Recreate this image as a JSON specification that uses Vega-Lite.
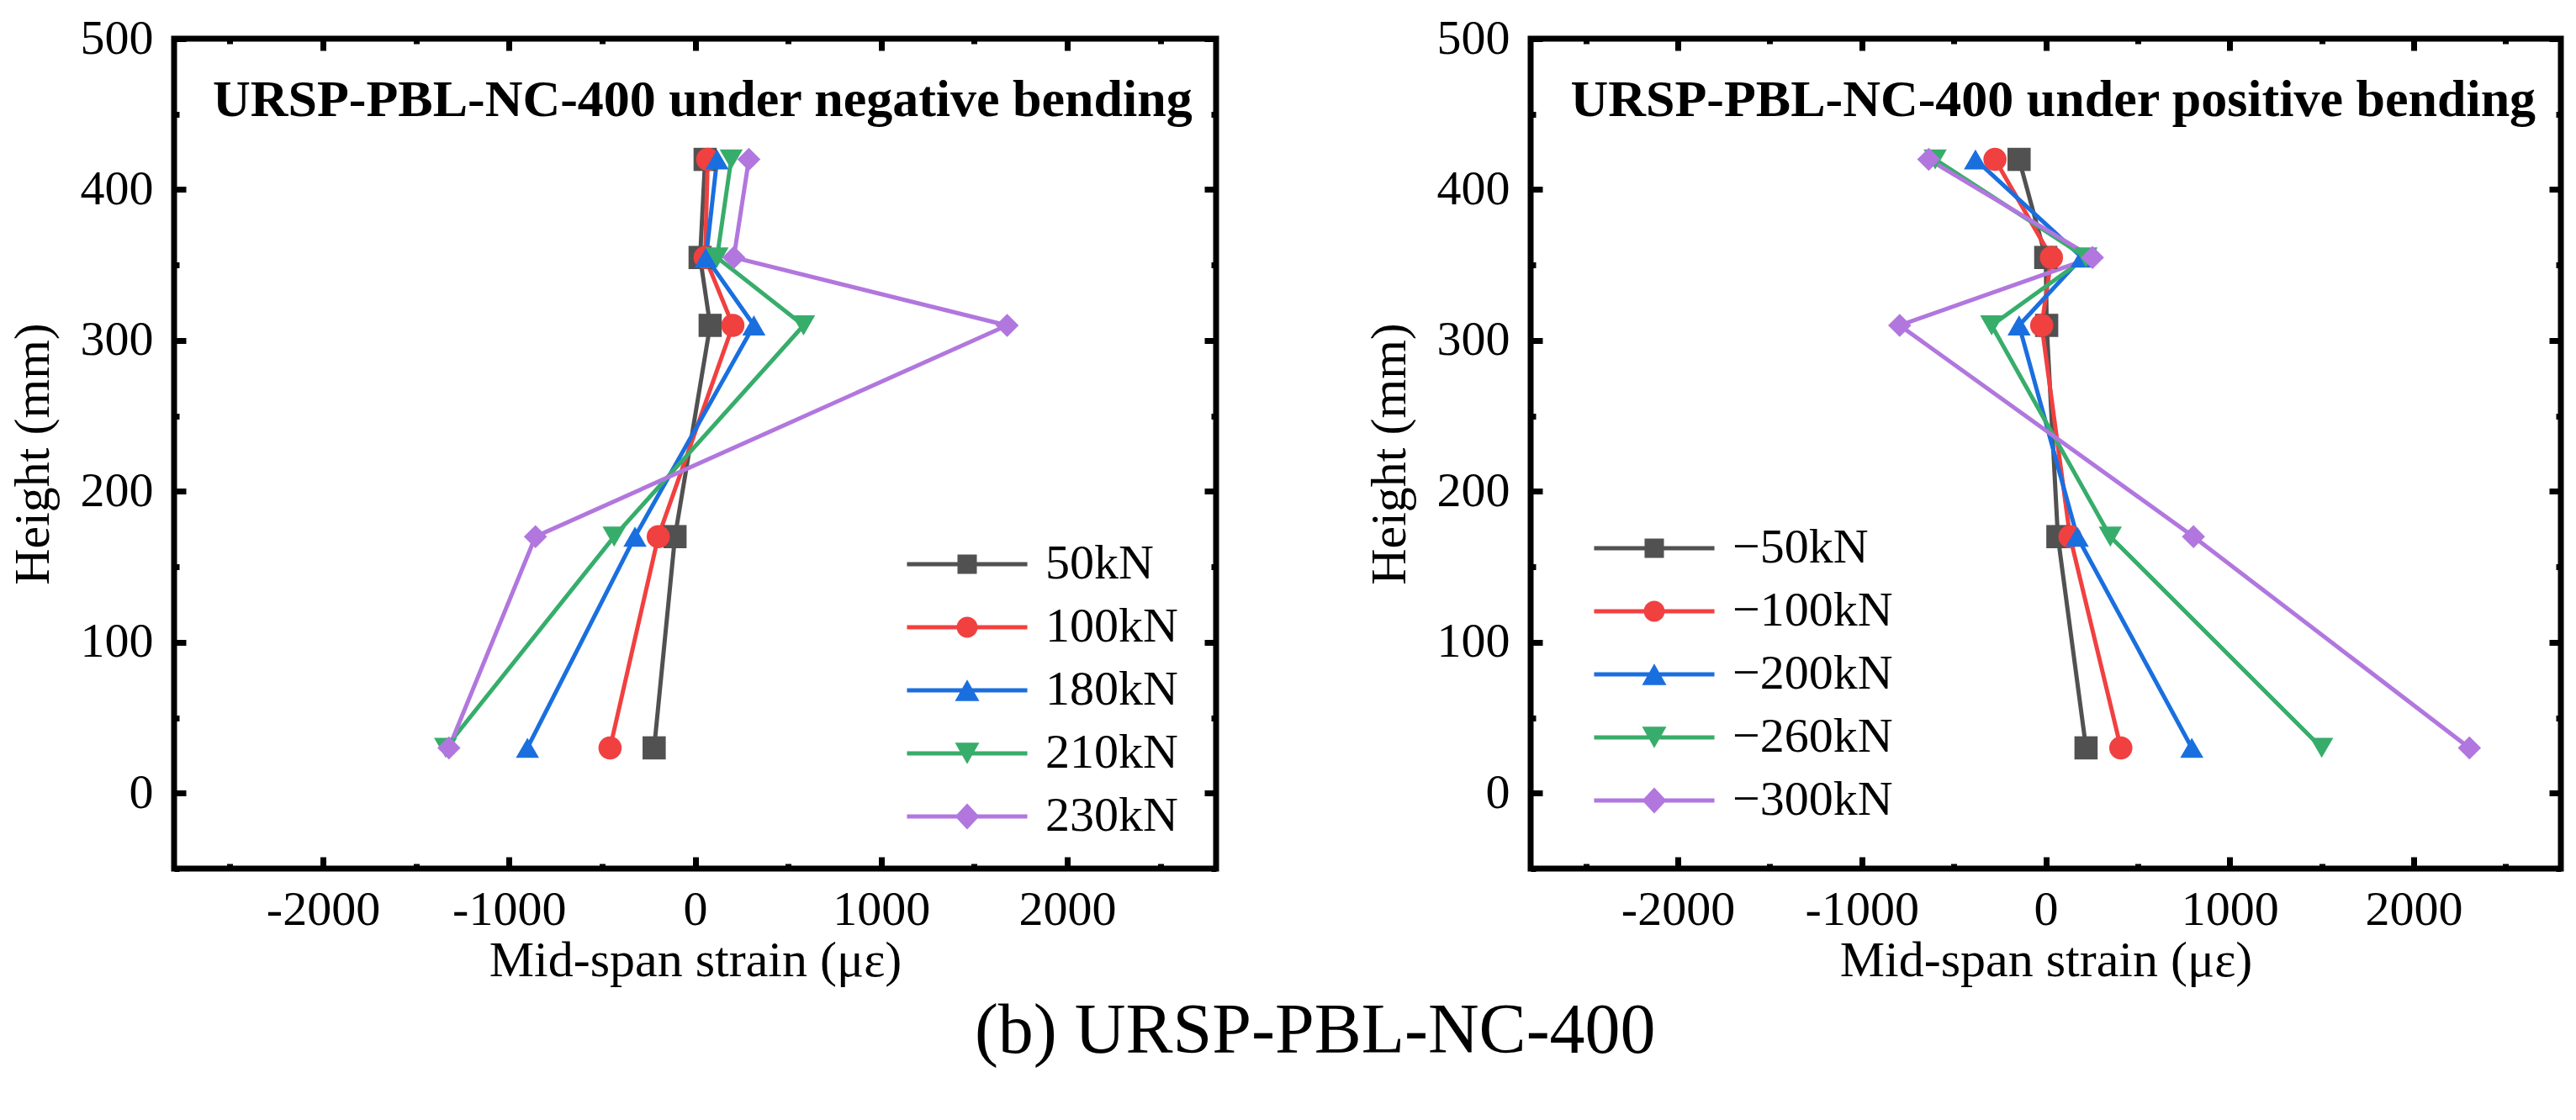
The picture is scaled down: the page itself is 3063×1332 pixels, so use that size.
{
  "$schema": "https://vega.github.io/schema/vega-lite/v6.json",
  "background": "white",
  "padding": {"left": 5, "top": 13, "right": 5, "bottom": 5},
  "datasets": {
    "strain": [
      {"panel": "neg", "series": "50kN", "height": 30, "strain": -220},
      {"panel": "neg", "series": "50kN", "height": 170, "strain": -108},
      {"panel": "neg", "series": "50kN", "height": 310, "strain": 81},
      {"panel": "neg", "series": "50kN", "height": 355, "strain": 27},
      {"panel": "neg", "series": "50kN", "height": 420, "strain": 54},
      {"panel": "neg", "series": "100kN", "height": 30, "strain": -457},
      {"panel": "neg", "series": "100kN", "height": 170, "strain": -198},
      {"panel": "neg", "series": "100kN", "height": 310, "strain": 203},
      {"panel": "neg", "series": "100kN", "height": 355, "strain": 54},
      {"panel": "neg", "series": "100kN", "height": 420, "strain": 68},
      {"panel": "neg", "series": "180kN", "height": 30, "strain": -901},
      {"panel": "neg", "series": "180kN", "height": 170, "strain": -323},
      {"panel": "neg", "series": "180kN", "height": 310, "strain": 316},
      {"panel": "neg", "series": "180kN", "height": 355, "strain": 59},
      {"panel": "neg", "series": "180kN", "height": 420, "strain": 118},
      {"panel": "neg", "series": "210kN", "height": 30, "strain": -1341},
      {"panel": "neg", "series": "210kN", "height": 170, "strain": -435},
      {"panel": "neg", "series": "210kN", "height": 310, "strain": 583},
      {"panel": "neg", "series": "210kN", "height": 355, "strain": 118},
      {"panel": "neg", "series": "210kN", "height": 420, "strain": 194},
      {"panel": "neg", "series": "230kN", "height": 30, "strain": -1323},
      {"panel": "neg", "series": "230kN", "height": 170, "strain": -858},
      {"panel": "neg", "series": "230kN", "height": 310, "strain": 1677},
      {"panel": "neg", "series": "230kN", "height": 355, "strain": 208},
      {"panel": "neg", "series": "230kN", "height": 420, "strain": 289},
      {"panel": "pos", "series": "−50kN", "height": 30, "strain": 219},
      {"panel": "pos", "series": "−50kN", "height": 170, "strain": 66},
      {"panel": "pos", "series": "−50kN", "height": 310, "strain": 5},
      {"panel": "pos", "series": "−50kN", "height": 355, "strain": 0},
      {"panel": "pos", "series": "−50kN", "height": 420, "strain": -145},
      {"panel": "pos", "series": "−100kN", "height": 30, "strain": 408},
      {"panel": "pos", "series": "−100kN", "height": 170, "strain": 132},
      {"panel": "pos", "series": "−100kN", "height": 310, "strain": -22},
      {"panel": "pos", "series": "−100kN", "height": 355, "strain": 31},
      {"panel": "pos", "series": "−100kN", "height": 420, "strain": -276},
      {"panel": "pos", "series": "−200kN", "height": 30, "strain": 794},
      {"panel": "pos", "series": "−200kN", "height": 170, "strain": 171},
      {"panel": "pos", "series": "−200kN", "height": 310, "strain": -145},
      {"panel": "pos", "series": "−200kN", "height": 355, "strain": 197},
      {"panel": "pos", "series": "−200kN", "height": 420, "strain": -382},
      {"panel": "pos", "series": "−260kN", "height": 30, "strain": 1500},
      {"panel": "pos", "series": "−260kN", "height": 170, "strain": 351},
      {"panel": "pos", "series": "−260kN", "height": 310, "strain": -294},
      {"panel": "pos", "series": "−260kN", "height": 355, "strain": 219},
      {"panel": "pos", "series": "−260kN", "height": 420, "strain": -601},
      {"panel": "pos", "series": "−300kN", "height": 30, "strain": 2303},
      {"panel": "pos", "series": "−300kN", "height": 170, "strain": 803},
      {"panel": "pos", "series": "−300kN", "height": 310, "strain": -794},
      {"panel": "pos", "series": "−300kN", "height": 355, "strain": 254},
      {"panel": "pos", "series": "−300kN", "height": 420, "strain": -636}
    ]
  },
  "data": {"name": "strain"},
  "title": {
    "text": "(b) URSP-PBL-NC-400",
    "orient": "bottom",
    "anchor": "middle",
    "font": "Liberation Serif",
    "fontSize": 84,
    "fontWeight": "normal",
    "color": "black",
    "offset": 10,
    "dx": 35
  },
  "spacing": 165,
  "resolve": {"scale": {"color": "independent", "shape": "independent", "x": "independent", "y": "independent"}},
  "hconcat": [
    {
      "width": 1239,
      "height": 987,
      "transform": [{"filter": "datum.panel === 'neg'"}],
      "resolve": {"axis": {"x": "independent", "y": "independent"}, "scale": {"shape": "independent", "color": "independent"}},
      "layer": [
        {
          "mark": {"type": "line", "strokeWidth": 5},
          "encoding": {
            "x": {"field": "strain", "type": "quantitative",
              "scale": {"domain": [-2800, 2800], "nice": false, "zero": false},
              "axis": {"orient": "bottom", "values": [-2000, -1000, 0, 1000, 2000], "tickSize": -14, "labelPadding": 34, "labelExpr": "'' + datum.value", "title": "Mid-span strain (με)", "titlePadding": 2}},
            "y": {"field": "height", "type": "quantitative",
              "scale": {"domain": [-50, 500], "nice": false, "zero": false},
              "axis": {"orient": "left", "values": [0, 100, 200, 300, 400, 500], "tickSize": -14, "labelPadding": 39, "labelFlush": false, "title": "Height (mm)", "titlePadding": 25}},
            "color": {"field": "series", "type": "nominal",
              "scale": {"domain": ["50kN", "100kN", "180kN", "210kN", "230kN"], "range": ["#515151", "#F14040", "#1A6FDF", "#37AD6B", "#B177DE"]},
              "legend": null},
            "order": {"field": "height", "type": "quantitative"}
          }
        },
        {
          "mark": {"type": "point", "filled": true, "opacity": 1, "strokeWidth": 0, "size": 760},
          "encoding": {
            "x": {"field": "strain", "type": "quantitative",
              "axis": {"orient": "top", "values": [-2000, -1000, 0, 1000, 2000], "tickSize": -14, "labels": false, "title": null}},
            "y": {"field": "height", "type": "quantitative",
              "axis": {"orient": "right", "values": [0, 100, 200, 300, 400, 500], "tickSize": -14, "labels": false, "title": null}},
            "color": {"field": "series", "type": "nominal",
              "scale": {"domain": ["50kN", "100kN", "180kN", "210kN", "230kN"], "range": ["#515151", "#F14040", "#1A6FDF", "#37AD6B", "#B177DE"]},
              "legend": null},
            "shape": {"field": "series", "type": "nominal",
              "scale": {"domain": ["50kN", "100kN", "180kN", "210kN", "230kN"], "range": ["square", "circle", "triangle-up", "triangle-down", "diamond"]},
              "legend": null}
          }
        },
        {
          "data": {"values": [{"label": "URSP-PBL-NC-400 under negative bending"}]},
          "mark": {"type": "text", "fontSize": 62, "fontWeight": "bold", "align": "center", "baseline": "alphabetic", "color": "black"},
          "encoding": {
            "x": {"datum": 40, "type": "quantitative",
              "axis": {"orient": "bottom", "values": [-2500, -1500, -500, 500, 1500, 2500], "tickSize": -6, "labels": false, "title": null}},
            "y": {"datum": 449, "type": "quantitative",
              "axis": {"orient": "left", "values": [-50, 50, 150, 250, 350, 450], "tickSize": -6, "labels": false, "title": null}},
            "text": {"field": "label"}
          }
        },
        {
          "mark": {"type": "point", "filled": true, "opacity": 0, "strokeWidth": 0, "size": 900},
          "encoding": {
            "x": {"field": "strain", "type": "quantitative",
              "axis": {"orient": "top", "values": [-2500, -1500, -500, 500, 1500, 2500], "tickSize": -6, "labels": false, "title": null}},
            "y": {"field": "height", "type": "quantitative",
              "axis": {"orient": "right", "values": [-50, 50, 150, 250, 350, 450], "tickSize": -6, "labels": false, "title": null}},
            "color": {"field": "series", "type": "nominal",
              "scale": {"domain": ["50kN", "100kN", "180kN", "210kN", "230kN"], "range": ["#515151", "#F14040", "#1A6FDF", "#37AD6B", "#B177DE"]},
              "legend": {"title": null, "orient": "none", "legendX": 914, "legendY": 596, "padding": 0,
                "labelFontSize": 58, "labelColor": "black", "labelLimit": 0, "symbolOpacity": 1,
                "symbolSize": 900, "symbolStrokeWidth": 0, "labelOffset": 64, "rowPadding": 17}},
            "shape": {"field": "series", "type": "nominal",
              "scale": {"domain": ["50kN", "100kN", "180kN", "210kN", "230kN"], "range": [
                "M-4.77,-0.167H4.77V0.167H-4.77ZM-0.767,-0.767H0.767V0.767H-0.767Z",
                "M-4.77,-0.167H4.77V0.167H-4.77ZM-0.833,0A0.833,0.833,0,1,1,0.833,0A0.833,0.833,0,1,1,-0.833,0Z",
                "M-4.77,-0.167H4.77V0.167H-4.77ZM0,-0.85L0.967,0.85L-0.967,0.85Z",
                "M-4.77,-0.167H4.77V0.167H-4.77ZM0,0.85L-0.967,-0.85L0.967,-0.85Z",
                "M-4.77,-0.167H4.77V0.167H-4.77ZM0,-1.03L0.967,0L0,1.03L-0.967,0Z"]},
              "legend": {"title": null, "orient": "none", "legendX": 914, "legendY": 596, "padding": 0,
                "labelFontSize": 58, "labelColor": "black", "labelLimit": 0, "symbolOpacity": 1,
                "symbolSize": 900, "symbolStrokeWidth": 0, "labelOffset": 64, "rowPadding": 17}}
          }
        }
      ]
    },
    {
      "width": 1225,
      "height": 987,
      "transform": [{"filter": "datum.panel === 'pos'"}],
      "resolve": {"axis": {"x": "independent", "y": "independent"}, "scale": {"shape": "independent", "color": "independent"}},
      "layer": [
        {
          "mark": {"type": "line", "strokeWidth": 5},
          "encoding": {
            "x": {"field": "strain", "type": "quantitative",
              "scale": {"domain": [-2800, 2800], "nice": false, "zero": false},
              "axis": {"orient": "bottom", "values": [-2000, -1000, 0, 1000, 2000], "tickSize": -14, "labelPadding": 34, "labelExpr": "'' + datum.value", "title": "Mid-span strain (με)", "titlePadding": 2}},
            "y": {"field": "height", "type": "quantitative",
              "scale": {"domain": [-50, 500], "nice": false, "zero": false},
              "axis": {"orient": "left", "values": [0, 100, 200, 300, 400, 500], "tickSize": -14, "labelPadding": 39, "labelFlush": false, "title": "Height (mm)", "titlePadding": 25}},
            "color": {"field": "series", "type": "nominal",
              "scale": {"domain": ["−50kN", "−100kN", "−200kN", "−260kN", "−300kN"], "range": ["#515151", "#F14040", "#1A6FDF", "#37AD6B", "#B177DE"]},
              "legend": null},
            "order": {"field": "height", "type": "quantitative"}
          }
        },
        {
          "mark": {"type": "point", "filled": true, "opacity": 1, "strokeWidth": 0, "size": 760},
          "encoding": {
            "x": {"field": "strain", "type": "quantitative",
              "axis": {"orient": "top", "values": [-2000, -1000, 0, 1000, 2000], "tickSize": -14, "labels": false, "title": null}},
            "y": {"field": "height", "type": "quantitative",
              "axis": {"orient": "right", "values": [0, 100, 200, 300, 400, 500], "tickSize": -14, "labels": false, "title": null}},
            "color": {"field": "series", "type": "nominal",
              "scale": {"domain": ["−50kN", "−100kN", "−200kN", "−260kN", "−300kN"], "range": ["#515151", "#F14040", "#1A6FDF", "#37AD6B", "#B177DE"]},
              "legend": null},
            "shape": {"field": "series", "type": "nominal",
              "scale": {"domain": ["−50kN", "−100kN", "−200kN", "−260kN", "−300kN"], "range": ["square", "circle", "triangle-up", "triangle-down", "diamond"]},
              "legend": null}
          }
        },
        {
          "data": {"values": [{"label": "URSP-PBL-NC-400 under positive bending"}]},
          "mark": {"type": "text", "fontSize": 62, "fontWeight": "bold", "align": "center", "baseline": "alphabetic", "color": "black"},
          "encoding": {
            "x": {"datum": 40, "type": "quantitative",
              "axis": {"orient": "bottom", "values": [-2500, -1500, -500, 500, 1500, 2500], "tickSize": -6, "labels": false, "title": null}},
            "y": {"datum": 449, "type": "quantitative",
              "axis": {"orient": "left", "values": [-50, 50, 150, 250, 350, 450], "tickSize": -6, "labels": false, "title": null}},
            "text": {"field": "label"}
          }
        },
        {
          "mark": {"type": "point", "filled": true, "opacity": 0, "strokeWidth": 0, "size": 900},
          "encoding": {
            "x": {"field": "strain", "type": "quantitative",
              "axis": {"orient": "top", "values": [-2500, -1500, -500, 500, 1500, 2500], "tickSize": -6, "labels": false, "title": null}},
            "y": {"field": "height", "type": "quantitative",
              "axis": {"orient": "right", "values": [-50, 50, 150, 250, 350, 450], "tickSize": -6, "labels": false, "title": null}},
            "color": {"field": "series", "type": "nominal",
              "scale": {"domain": ["−50kN", "−100kN", "−200kN", "−260kN", "−300kN"], "range": ["#515151", "#F14040", "#1A6FDF", "#37AD6B", "#B177DE"]},
              "legend": {"title": null, "orient": "none", "legendX": 118, "legendY": 577, "padding": 0,
                "labelFontSize": 58, "labelColor": "black", "labelLimit": 0, "symbolOpacity": 1,
                "symbolSize": 900, "symbolStrokeWidth": 0, "labelOffset": 64, "rowPadding": 17}},
            "shape": {"field": "series", "type": "nominal",
              "scale": {"domain": ["−50kN", "−100kN", "−200kN", "−260kN", "−300kN"], "range": [
                "M-4.77,-0.167H4.77V0.167H-4.77ZM-0.767,-0.767H0.767V0.767H-0.767Z",
                "M-4.77,-0.167H4.77V0.167H-4.77ZM-0.833,0A0.833,0.833,0,1,1,0.833,0A0.833,0.833,0,1,1,-0.833,0Z",
                "M-4.77,-0.167H4.77V0.167H-4.77ZM0,-0.85L0.967,0.85L-0.967,0.85Z",
                "M-4.77,-0.167H4.77V0.167H-4.77ZM0,0.85L-0.967,-0.85L0.967,-0.85Z",
                "M-4.77,-0.167H4.77V0.167H-4.77ZM0,-1.03L0.967,0L0,1.03L-0.967,0Z"]},
              "legend": {"title": null, "orient": "none", "legendX": 118, "legendY": 577, "padding": 0,
                "labelFontSize": 58, "labelColor": "black", "labelLimit": 0, "symbolOpacity": 1,
                "symbolSize": 900, "symbolStrokeWidth": 0, "labelOffset": 64, "rowPadding": 17}}
          }
        }
      ]
    }
  ],
  "config": {
    "font": "Liberation Serif",
    "view": {"stroke": "black", "strokeWidth": 7},
    "text": {"font": "Liberation Serif"},
    "legend": {"labelFont": "Liberation Serif"},
    "axis": {
      "domain": false,
      "grid": false,
      "tickColor": "black",
      "tickWidth": 7,
      "labelFont": "Liberation Serif",
      "labelFontSize": 58,
      "labelColor": "black",
      "labelOverlap": false,
      "titleFont": "Liberation Serif",
      "titleFontSize": 60,
      "titleFontWeight": "normal",
      "titleColor": "black"
    }
  }
}
